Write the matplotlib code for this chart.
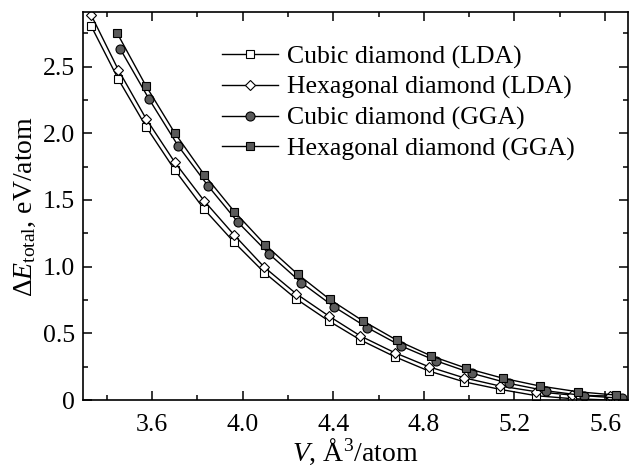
import matplotlib
matplotlib.use('Agg')
import matplotlib.pyplot as plt
from matplotlib.ticker import MultipleLocator, FuncFormatter

plt.rcParams['font.family'] = ['Liberation Serif', 'DejaVu Serif']
plt.rcParams['mathtext.fontset'] = 'custom'
plt.rcParams['mathtext.rm'] = 'Liberation Serif'
plt.rcParams['mathtext.it'] = 'Liberation Serif:italic'
plt.rcParams['font.size'] = 18.5

# LDA volumes (same for cubic and hexagonal)
v_lda = [3.33, 3.451, 3.573, 3.70, 3.83, 3.962, 4.096, 4.236, 4.38, 4.52,
         4.671, 4.821, 4.976, 5.136, 5.297, 5.455, 5.62]
e_cub_lda = [2.807, 2.405, 2.05, 1.725, 1.43, 1.183, 0.955, 0.758, 0.593, 0.45,
             0.325, 0.218, 0.137, 0.08, 0.032, 0.01, 0.0]
e_hex_lda = [2.89, 2.475, 2.11, 1.783, 1.493, 1.238, 0.995, 0.797, 0.63, 0.48,
             0.355, 0.25, 0.167, 0.105, 0.062, 0.037, 0.03]

# GGA
v_cub_gga = [3.459, 3.587, 3.714, 3.846, 3.979, 4.118, 4.259, 4.404, 4.55, 4.70,
             4.855, 5.013, 5.175, 5.337, 5.506, 5.673]
e_cub_gga = [2.633, 2.255, 1.908, 1.608, 1.333, 1.093, 0.88, 0.698, 0.543, 0.405,
             0.293, 0.2, 0.125, 0.07, 0.033, 0.013]
v_hex_gga = [3.445, 3.572, 3.699, 3.83, 3.963, 4.10, 4.243, 4.384, 4.531, 4.682,
             4.833, 4.988, 5.15, 5.312, 5.48, 5.648]
e_hex_gga = [2.753, 2.358, 2.005, 1.69, 1.413, 1.163, 0.943, 0.755, 0.593, 0.447,
             0.33, 0.238, 0.163, 0.105, 0.062, 0.037]

fig = plt.figure(figsize=(6.29, 4.71), dpi=100)
ax = fig.add_axes([0.132, 0.1507, 0.866, 0.824])

gray = '#5a5a5a'
ax.plot(v_lda, e_cub_lda, 'k-', lw=1, marker='s', ms=5.5, mfc='white', mec='k', mew=0.8,
        label='Cubic diamond (LDA)')
ax.plot(v_lda, e_hex_lda, 'k-', lw=1, marker='D', ms=5, mfc='white', mec='k', mew=0.8,
        label='Hexagonal diamond (LDA)')
ax.plot(v_cub_gga, e_cub_gga, 'k-', lw=1, marker='o', ms=6.5, mfc=gray, mec='k', mew=0.8,
        label='Cubic diamond (GGA)')
ax.plot(v_hex_gga, e_hex_gga, 'k-', lw=1, marker='s', ms=5.5, mfc=gray, mec='k', mew=0.8,
        label='Hexagonal diamond (GGA)')

ax.set_xlim(3.295, 5.70)
ax.set_ylim(0, 2.91)
ax.xaxis.set_major_locator(MultipleLocator(0.4))
ax.xaxis.set_minor_locator(MultipleLocator(0.2))
ax.yaxis.set_major_locator(MultipleLocator(0.5))
ax.yaxis.set_minor_locator(MultipleLocator(0.25))
ax.xaxis.set_major_formatter(FuncFormatter(lambda v, p: '%.1f' % v))
ax.yaxis.set_major_formatter(FuncFormatter(lambda v, p: '0' if abs(v) < 1e-9 else '%.1f' % v))
ax.tick_params(which='both', direction='in', top=True, right=True, width=1.1)
ax.tick_params(which='major', length=6.5, pad=6)
ax.tick_params(which='minor', length=3.5)
ax.tick_params(axis='x', which='major', pad=10)
for s in ax.spines.values():
    s.set_linewidth(1.2)

ax.set_xlabel(r'$V$, Å$^3$/atom', fontsize=20, labelpad=1)
ax.set_ylabel(r'$\Delta E_{\rm total}$, eV/atom', fontsize=20, labelpad=3)

ax.legend(loc='upper left', bbox_to_anchor=(0.237, 0.94), frameon=False,
          handlelength=2.15, handletextpad=0.38, labelspacing=0.28, borderaxespad=0)

fig.savefig('out.png', dpi=100)
